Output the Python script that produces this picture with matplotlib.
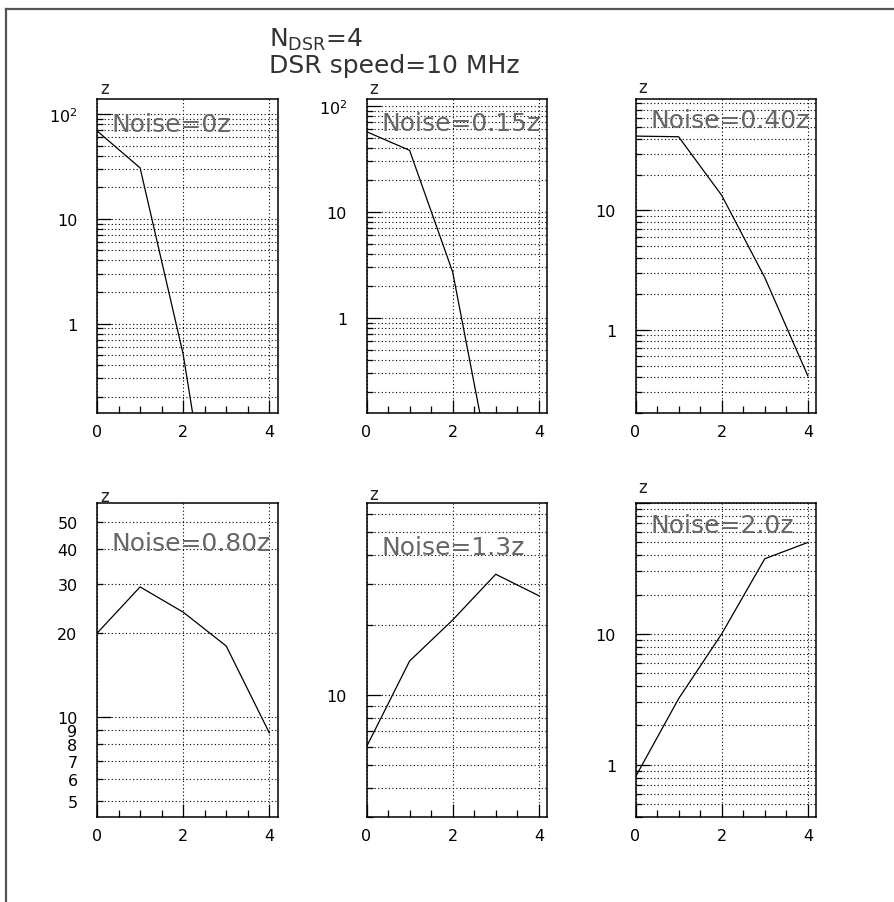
import numpy as np
import matplotlib
matplotlib.use("Agg")
import matplotlib.pyplot as plt
from matplotlib.ticker import FixedLocator, FixedFormatter
from matplotlib.lines import Line2D

plt.rcParams['font.family'] = ['DejaVu Sans']
plt.rcParams['mathtext.default'] = 'regular'
plt.rcParams['mathtext.fontset'] = 'dejavusans'

# ---- data -----------------------------------------------------------------
bins = [0, 1, 2, 3, 4]

noise_labels = ["Noise=0z", "Noise=0.15z", "Noise=0.40z",
                "Noise=0.80z", "Noise=1.3z", "Noise=2.0z"]

rate_noise_000 = [69.0, 30.6, 0.51, 0.0014, np.nan]
rate_noise_015 = [57.0, 38.0, 2.7, 0.021, np.nan]
rate_noise_040 = [42.0, 41.5, 13.4, 2.74, 0.41]
rate_noise_080 = [20.0, 29.3, 23.8, 18.0, 8.8]
rate_noise_130 = [6.0, 14.0, 21.0, 33.0, 26.7]
rate_noise_200 = [0.81, 3.2, 10.0, 37.5, 50.0]

y_ranges = [(0.14, 139), (0.126, 116), (0.2, 86),
            (4.4, 58.5), (3.0, 66.7), (0.4, 100)]

y_labelled = [
    {1: "1", 10: "10", 100: "$10^{2}$"},
    {1: "1", 10: "10", 100: "$10^{2}$"},
    {1: "1", 10: "10"},
    {5: "5", 6: "6", 7: "7", 8: "8", 9: "9", 10: "10",
     20: "20", 30: "30", 40: "40", 50: "50"},
    {10: "10"},
    {1: "1", 10: "10"},
]

x_ticks_major = [0, 2, 4]
x_tick_labels = ["0", "2", "4"]
x_ticks_minor = [0.5, 1, 1.5, 2.5, 3, 3.5]

title_line1 = "N$_{DSR}$=4"
title_line2 = "DSR speed=10 MHz"

series = [rate_noise_000, rate_noise_015, rate_noise_040,
          rate_noise_080, rate_noise_130, rate_noise_200]

# ---- layout (pixels) --------------------------------------------------------
W, H = 894, 903
fig = plt.figure(figsize=(W / 100, H / 100), dpi=100)

col_left = [97, 366.5, 635.5]
row_top = [100, 504]
ax_w, ax_h = 180.5, 314
text_drop = [31.5, 31, 28, 47, 51, 29]
z_base = [94, 94, 93, 502, 500, 493]


def fx(x):
    return x / W


def fy(y):
    return 1 - y / H


def log_ticks(lo, hi):
    majors, minors = [], []
    for d in range(int(np.floor(np.log10(lo))) - 1, int(np.ceil(np.log10(hi))) + 1):
        for m in range(1, 10):
            v = m * 10.0 ** d
            if lo <= v <= hi:
                (majors if m == 1 else minors).append(v)
    return majors, minors


grid_style = dict(color='black', linestyle=(0, (1, 2.2)), linewidth=0.8)

for i, values in enumerate(series):
    r, c = divmod(i, 3)
    left, top = col_left[c], row_top[r]
    ax = fig.add_axes([fx(left), fy(top + ax_h), ax_w / W, ax_h / H])
    ax.set_yscale('log')
    ax.set_xlim(0, 4.19)
    lo, hi = y_ranges[i]
    ax.set_ylim(lo, hi)

    ax.plot(bins, values, color='black', linewidth=0.9)

    majors, minors = log_ticks(lo, hi)
    labels = y_labelled[i]

    def fmt(vals):
        out = []
        for v in vals:
            if v >= 1 and abs(v - round(v)) < 1e-6:
                out.append(labels.get(int(round(v)), ""))
            else:
                out.append("")
        return out

    ax.yaxis.set_major_locator(FixedLocator(majors))
    ax.yaxis.set_major_formatter(FixedFormatter(fmt(majors)))
    ax.yaxis.set_minor_locator(FixedLocator(minors))
    ax.yaxis.set_minor_formatter(FixedFormatter(fmt(minors)))

    ax.xaxis.set_major_locator(FixedLocator(x_ticks_major))
    ax.xaxis.set_major_formatter(FixedFormatter(x_tick_labels))
    ax.xaxis.set_minor_locator(FixedLocator(x_ticks_minor))

    ax.tick_params(axis='x', which='major', direction='in', length=9.5,
                   width=0.9, labelsize=11.5, pad=8, top=False)
    ax.tick_params(axis='x', which='minor', direction='in', length=5,
                   width=0.9, top=False)
    ax.tick_params(axis='y', which='major', direction='in', length=10,
                   width=0.9, labelsize=11.5, pad=14, right=False)
    ax.tick_params(axis='y', which='minor', direction='in', length=4.3,
                   width=0.9, labelsize=11.5, pad=14, right=False)

    ax.yaxis.grid(True, which='both', **grid_style)
    ax.xaxis.grid(True, which='major', **grid_style)
    ax.xaxis.grid(False, which='minor')
    ax.set_axisbelow(False)

    for s in ax.spines.values():
        s.set_linewidth(1.1)

    fig.text(fx(left + 15), fy(top + text_drop[i]), noise_labels[i],
             fontsize=18, color='#666666', va='baseline', ha='left')
    fig.text(fx(left + 3), fy(z_base[i]), "z", fontsize=12,
             color='#222222', va='baseline', ha='left')

fig.text(fx(269), fy(47), title_line1, fontsize=18, color='#333333',
         va='baseline', ha='left')
fig.text(fx(269), fy(73), title_line2, fontsize=18, color='#333333',
         va='baseline', ha='left')

# page frame (top and left edges)
fig.add_artist(Line2D([fx(6), 1], [fy(10), fy(10)], color='#555555', linewidth=1.6))
fig.add_artist(Line2D([fx(6), fx(6)], [fy(10), 0], color='#555555', linewidth=1.6))

fig.savefig("out.png", dpi=100)
